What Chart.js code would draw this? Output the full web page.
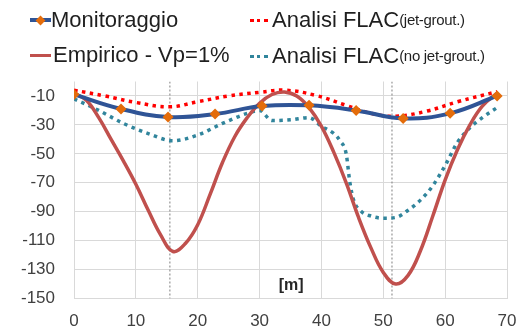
<!DOCTYPE html>
<html>
<head>
<meta charset="utf-8">
<script src="https://cdn.jsdelivr.net/npm/chart.js@4"></script>
<style>
  body { margin: 0; background: #fff; }
  #wrap { position: relative; width: 529px; height: 333px; font-family: "Liberation Sans", Arial, sans-serif; color: #1f1f1f; }
  #chart { position: absolute; left: 0; top: 0; }
  .leg { position: absolute; font-size: 22px; line-height: 22px; white-space: nowrap; }
  .leg small { font-size: 15px; vertical-align: 2px; letter-spacing: -0.3px; }
  .sw { position: absolute; height: 0; }
  .dia { position: absolute; width: 7px; height: 7px; background: #E46C0A; transform: rotate(45deg); }
</style>
</head>
<body>
<div id="wrap">
  <canvas id="chart" width="529" height="333"></canvas>

  <div class="sw" style="left:30px; top:18px; width:21px; border-top:4px solid #2F5496;"></div>
  <div class="dia" style="left:36.5px; top:16.5px;"></div>
  <div class="leg" style="left:51px; top:9px;">Monitoraggio</div>

  <div class="sw" style="left:30px; top:53.5px; width:21px; border-top:3.5px solid #C0504D;"></div>
  <div class="leg" style="left:53px; top:44px;">Empirico - Vp=1%</div>

  <div class="sw" style="left:250px; top:19px; width:18px; border-top:3px dotted #FF0000;"></div>
  <div class="leg" style="left:272px; top:9px;">Analisi FLAC<small>(jet-grout.)</small></div>

  <div class="sw" style="left:250px; top:55px; width:18px; border-top:3px dotted #31859C;"></div>
  <div class="leg" style="left:272px; top:45px;">Analisi FLAC<small>(no jet-grout.)</small></div>
</div>

<script>
// distance along the section [m] and settlements [mm]
const monitorX = [0, 7.6, 15.2, 22.8, 30.4, 38, 45.6, 53.2, 60.8, 68.4];
const monitorY = [-9, -19, -24.5, -22.5, -17, -16.5, -20, -25.5, -22, -10];

const empiricoX = [0, 2, 4, 6, 8, 10, 12, 14, 16, 18, 20, 22, 24, 26, 28, 30, 32, 34, 36, 38,
                   40, 42, 44, 46, 48, 50, 52, 54, 56, 58, 60, 62, 64, 66, 68.4];
const empiricoY = [-8, -13, -25, -40, -55, -71, -89, -106, -117.5, -112, -99, -78, -56, -38, -25, -15, -9, -7.2, -10, -18,
                   -31, -49, -70, -94, -115, -132, -140, -134, -117, -93, -68, -47, -30, -17, -8];

const jetX = [0, 5, 10, 15.5, 20, 25, 30, 34, 39, 44, 48, 52, 57, 62, 68.4];
const jetY = [-6, -10, -14.5, -17.5, -14, -10, -7.5, -6, -9.5, -16.5, -22, -24, -20.5, -14, -7];

const noJetX = [0, 4, 8, 12, 16, 20, 24, 28, 30, 32, 35, 38, 40, 42, 43, 44, 44.6, 45.2, 46.5, 48,
                50, 52, 54, 56, 58, 60, 62, 64, 66, 68.4];
const noJetY = [-12, -20, -29, -36, -41, -37, -29, -22, -20, -27, -26.5, -25, -31, -36, -41, -50, -70, -82, -90, -93,
                -94.5, -94, -89, -82, -72, -58, -42, -32, -25, -18];

// dashed vertical references
const refX = [15.5, 51.4];

const yTicks = [-150, -130, -110, -90, -70, -50, -30, -10];

function pts(xs, ys) {
    return xs.map((x, i) => ({ x: x, y: ys[i] }));
}

const tickFont = { family: "Liberation Sans", size: 17 };

const datasets = [
    {
        data: pts(monitorX, monitorY),
        borderColor: "#2F5496",
        borderWidth: 4,
        tension: 0.4,
        pointStyle: "rectRot",
        pointRadius: 5.5,
        pointBackgroundColor: "#E46C0A",
        pointBorderColor: "#E46C0A",
        pointBorderWidth: 0,
        order: 0
    },
    {
        data: pts(empiricoX, empiricoY),
        borderColor: "#C0504D",
        borderWidth: 3.5,
        tension: 0.4,
        pointRadius: 0,
        order: 1
    },
    {
        data: pts(jetX, jetY),
        borderColor: "#FF0000",
        borderWidth: 3.5,
        borderDash: [3.5, 4.5],
        tension: 0.4,
        pointRadius: 0,
        order: 2
    },
    {
        data: pts(noJetX, noJetY),
        borderColor: "#31859C",
        borderWidth: 3.5,
        borderDash: [3.5, 4.5],
        cubicInterpolationMode: "monotone",
        pointRadius: 0,
        order: 3
    }
];
refX.forEach(x => {
    datasets.push({
        data: [{ x: x, y: 0 }, { x: x, y: -150 }],
        borderColor: "#7f7f7f",
        borderWidth: 1,
        borderDash: [2, 2],
        pointRadius: 0,
        order: 4
    });
});

// "[m]" label sits inside the plot
const unitLabel = {
    id: "unitLabel",
    afterDatasetsDraw(chart) {
        const ctx = chart.ctx;
        ctx.save();
        ctx.font = "bold 16px 'Liberation Sans'";
        ctx.fillStyle = "#262626";
        ctx.textAlign = "center";
        ctx.textBaseline = "middle";
        ctx.fillText("[m]", chart.scales.x.getPixelForValue(35.1), chart.scales.y.getPixelForValue(-141));
        ctx.restore();
    }
};

new Chart(document.getElementById("chart"), {
    type: "line",
    data: { datasets },
    plugins: [unitLabel],
    options: {
        responsive: false,
        animation: false,
        layout: { padding: { top: 81.5, right: 21, left: 0, bottom: 0 } },
        plugins: { legend: { display: false }, tooltip: { enabled: false } },
        scales: {
            x: {
                type: "linear",
                min: 0,
                max: 70,
                ticks: { stepSize: 10, font: tickFont, color: "#404040", padding: 12.5, maxRotation: 0 },
                grid: { color: "#d9d9d9", drawTicks: false },
                border: { display: false },
                afterFit(scale) { scale.height = 34.5; }
            },
            y: {
                min: -150,
                max: 0,
                afterBuildTicks(scale) { scale.ticks = yTicks.map(v => ({ value: v })); },
                ticks: { font: tickFont, color: "#404040", padding: 19 },
                grid: { color: "#d9d9d9", drawTicks: false },
                border: { display: false },
                afterFit(scale) { scale.width = 74; }
            }
        }
    }
});
</script>
</body>
</html>
